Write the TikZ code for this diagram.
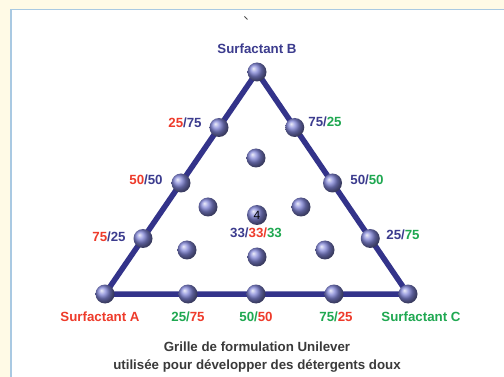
\documentclass[tikz,border=0pt]{standalone}
\usepackage{fontspec}
\setmainfont{Liberation Sans}
\usetikzlibrary{positioning,calc,backgrounds}
\definecolor{gridblue}  {HTML}{33338A}
\definecolor{ballblue}  {HTML}{8084D6}
\definecolor{txtblue}   {HTML}{3C3C8E}
\definecolor{txtred}    {HTML}{EE3B2B}
\definecolor{txtgreen}  {HTML}{1FA851}
\definecolor{capgray}   {HTML}{3A3A3A}
\definecolor{panelrule} {HTML}{A9C9E2}
\definecolor{cream}     {HTML}{FFFAE6}

\tikzset{
  ball/.style={circle, minimum size=19pt, inner sep=0pt,
               shading=ball, ball color=ballblue},
  lbl/.style={font=\fontsize{13.3}{15}\selectfont\bfseries, inner sep=0pt},
  edge/.style={draw=gridblue, line width=5.5pt, line join=round}
}

\begin{document}
\begin{tikzpicture}[x=1pt,y=-1pt]
  \useasboundingbox (0,0) rectangle (504,377);

  % corners and sides of the grid
  \node[ball] (sB) at (257,72)  {};
  \node[ball] (sA) at (105,294) {};
  \node[ball] (sC) at (408,294) {};
  \foreach \f [count=\i] in {0.25,0.5,0.75}
    {\node[ball] (ab\i) at ($(sB)!\f!(sA)$) {};
     \node[ball] (bc\i) at ($(sB)!\f!(sC)$) {};}
  \foreach \x [count=\i] in {188,256,334}
    {\node[ball] (ac\i) at (\x,294) {};}

  % inner points
  \foreach \x/\y [count=\i] in {256/158, 208/207, 301/207, 187/250, 257/257, 325/250}
    {\node[ball] (in\i) at (\x,\y) {};}
  \node[ball, minimum size=20pt, font=\fontsize{12}{12}\selectfont, text=black]
    (mid) at (257,215) {4};

  \begin{pgfonlayer}{background}
    \fill[cream] (0,0) rectangle (504,377);
    \fill[white] (11,9.5) rectangle (504,377);
    \draw[panelrule, line width=1.5pt] (11,377) -- (11,9.5) -- (504,9.5);
    \draw[edge] (sA.center) -- (sB.center) -- (sC.center) -- cycle;
  \end{pgfonlayer}

  \draw[black!70, line width=0.8pt] (244.5,16.5) -- (247.5,19.5);

  % labels
  \node[lbl, text=txtblue]  (lB) at (257,49)  {Surfactant B};
  \node[lbl, text=txtred]   (lA) at (100,317) {Surfactant A};
  \node[lbl, text=txtgreen] (lC) at (421,317) {Surfactant C};

  \node[lbl] (lab1) at (185,123) {\textcolor{txtred}{25}\textcolor{txtblue}{/75}};
  \node[lbl] (lab2) at (146,180) {\textcolor{txtred}{50}\textcolor{txtblue}{/50}};
  \node[lbl] (lab3) at (109,237) {\textcolor{txtred}{75}\textcolor{txtblue}{/25}};

  \node[lbl] (lbc1) at (325,122) {\textcolor{txtblue}{75/}\textcolor{txtgreen}{25}};
  \node[lbl] (lbc2) at (367,180) {\textcolor{txtblue}{50/}\textcolor{txtgreen}{50}};
  \node[lbl] (lbc3) at (403,235) {\textcolor{txtblue}{25/}\textcolor{txtgreen}{75}};

  \node[lbl] (lac1) at (188,317) {\textcolor{txtgreen}{25/}\textcolor{txtred}{75}};
  \node[lbl] (lac2) at (256,317) {\textcolor{txtgreen}{50/}\textcolor{txtred}{50}};
  \node[lbl] (lac3) at (336,317) {\textcolor{txtgreen}{75/}\textcolor{txtred}{25}};

  \node[lbl] (lmid) at (256,233)
    {\textcolor{txtblue}{33/}\textcolor{txtred}{33/}\textcolor{txtgreen}{33}};

  \node[lbl, text=capgray, align=center,
        font=\fontsize{13.3}{18}\selectfont\bfseries] (cap) at (257,357)
    {Grille de formulation Unilever\\utilisée pour développer des détergents doux};
\end{tikzpicture}
\end{document}
